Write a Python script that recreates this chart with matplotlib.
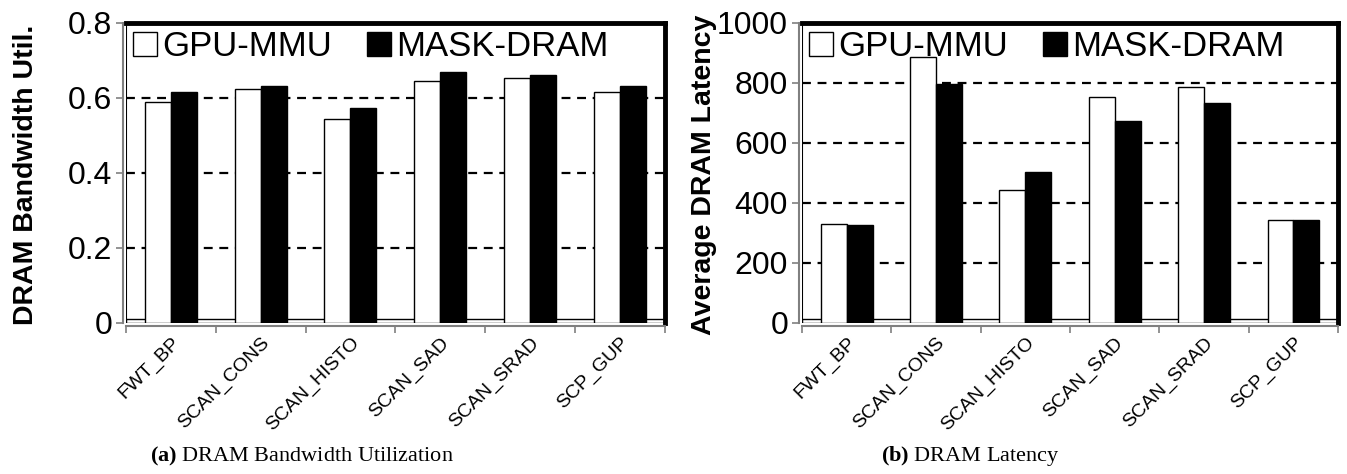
import matplotlib.pyplot as plt
from matplotlib.patches import Patch

plt.rcParams['font.family'] = ['Liberation Sans', 'DejaVu Sans']
plt.rcParams['mathtext.fontset'] = 'custom'
plt.rcParams['mathtext.rm'] = 'Liberation Serif'
plt.rcParams['mathtext.bf'] = 'Liberation Serif:bold'

benchmarks = ["FWT_BP", "SCAN_CONS", "SCAN_HISTO", "SCAN_SAD", "SCAN_SRAD", "SCP_GUP"]
series = ["GPU-MMU", "MASK-DRAM"]

bw_gpu_mmu = [0.590, 0.625, 0.543, 0.645, 0.652, 0.615]
bw_mask_dram = [0.617, 0.632, 0.573, 0.669, 0.662, 0.632]

lat_gpu_mmu = [330, 885, 443, 752, 786, 342]
lat_mask_dram = [325, 797, 503, 672, 733, 342]


def draw_panel(ax, a, b, ymax, step, yfmt):
    # spines first: set_position resets the tick labels
    for s in ["left", "bottom"]:
        ax.spines[s].set_color("gray")
        ax.spines[s].set_linewidth(1.5)
        ax.spines[s].set_position(("outward", 2))
    for s in ["top", "right"]:
        ax.spines[s].set_color("black")
        ax.spines[s].set_linewidth(3.5)

    x = list(range(len(benchmarks)))
    w = 0.29
    ax.bar([i - w / 2 for i in x], a, w, color="white", edgecolor="black", lw=1.0, zorder=3)
    ax.bar([i + w / 2 for i in x], b, w, color="black", edgecolor="black", lw=1.0, zorder=3)
    # thin strip along the floor
    ax.axhspan(0, ymax * 0.012, facecolor="white", edgecolor="black", lw=1.0, zorder=2)
    ax.axvline(-0.5, color="black", lw=1.5, zorder=4)

    ax.tick_params(axis="x", which="major", length=0, pad=6)
    ax.tick_params(axis="x", which="minor", length=5, color="gray", width=1.2)
    ax.tick_params(axis="y", length=5, color="gray", width=1.2, pad=3)

    ax.set_xlim(-0.5, len(benchmarks) - 0.5)
    ax.set_ylim(0, ymax)
    ticks = [step * k for k in range(int(round(ymax / step)) + 1)]
    ax.set_yticks(ticks)
    ax.set_yticklabels([yfmt(t) for t in ticks], fontsize=23)
    for t in ticks[1:-1]:
        ax.axhline(t, color="black", ls=(0, (4, 3)), lw=1.6, zorder=1)

    ax.set_xticks(x)
    ax.set_xticklabels(benchmarks, rotation=45, ha="right", rotation_mode="anchor", fontsize=14)
    ax.set_xticks([i - 0.5 for i in range(len(benchmarks) + 1)], minor=True)

    handles = [Patch(facecolor="white", edgecolor="black", label=series[0]),
               Patch(facecolor="black", edgecolor="black", label=series[1])]
    ax.legend(handles=handles, loc="upper left", ncol=2, frameon=False, fontsize=25,
              handlelength=0.7, handleheight=0.7, handletextpad=0.15, columnspacing=1.0,
              borderaxespad=0.0, borderpad=0.2)


fig = plt.figure(figsize=(13.47, 4.74), dpi=100)
ax1 = fig.add_axes([0.0935, 0.3186, 0.400, 0.633])
ax2 = fig.add_axes([0.5954, 0.3186, 0.398, 0.633])

draw_panel(ax1, bw_gpu_mmu, bw_mask_dram, 0.8, 0.2, lambda t: "0" if t == 0 else f"{t:.1f}")
draw_panel(ax2, lat_gpu_mmu, lat_mask_dram, 1000, 200, lambda t: f"{int(t)}")

fig.text(0.0195, 0.632, "DRAM Bandwidth Util.", rotation=90, ha="center", va="center",
         fontsize=20.5, fontweight="bold")
fig.text(0.5226, 0.632, "Average DRAM Latency", rotation=90, ha="center", va="center",
         fontsize=20.5, fontweight="bold")

fig.text(0.224, 0.038, r"$\mathbf{(a)}$ DRAM Bandwidth Utilization", ha="center", va="center",
         fontsize=16, family="Liberation Serif")
fig.text(0.72, 0.038, r"$\mathbf{(b)}$ DRAM Latency", ha="center", va="center",
         fontsize=16, family="Liberation Serif")

fig.savefig("out.png", dpi=100)
